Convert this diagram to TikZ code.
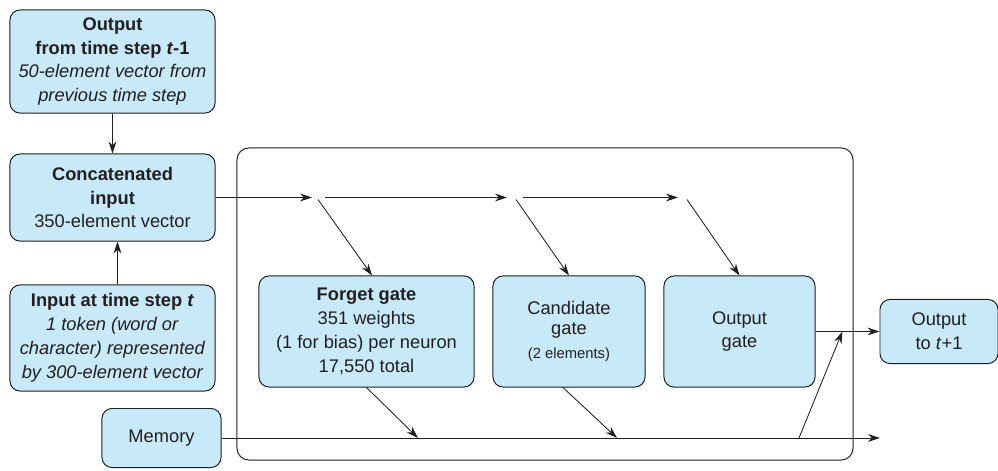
\documentclass[tikz,border=0pt]{standalone}
\usepackage{fontspec}
\setmainfont{Liberation Sans}
\usetikzlibrary{arrows.meta,positioning,calc}
\definecolor{boxblue}{RGB}{199,233,248}
\definecolor{inkgray}{RGB}{35,31,32}

\begin{document}
\begin{tikzpicture}[x=0.025cm,y=-0.025cm,
  box/.style={draw=inkgray,fill=boxblue,rounded corners=0.25cm,line width=0.7pt,align=center,text=inkgray,inner sep=0pt,font=\fontsize{13}{17}\selectfont},
  arr/.style={-{Stealth[length=8.5pt,width=5.5pt]},line width=0.6pt,draw=inkgray}]
\useasboundingbox (0,0) rectangle (998,471);
% cell frame
\node[draw=inkgray,rounded corners=0.3cm,line width=0.7pt,minimum width=15.4cm,minimum height=7.8cm] (cell) at (545,304) {};
% left column
\node[box,minimum width=5.125cm,minimum height=2.575cm] (prev) at (112.5,61.5) {\textbf{Output}\\ \textbf{from time step \textit{t}-1}\\ \textit{50-element vector from}\\ \textit{previous time step}};
\node[box,minimum width=5.125cm,minimum height=2.175cm] (cat) at (112.5,197.5) {\textbf{Concatenated}\\ \textbf{input}\\ 350-element vector};
\node[box,minimum width=5.125cm,minimum height=2.65cm] (inp) at (112.5,338) {\textbf{Input at time step \textit{t}}\\ \textit{1 token (word or}\\ \textit{character) represented}\\ \textit{by 300-element vector}};
\node[box,minimum width=2.975cm,minimum height=1.475cm] (mem) at (161.5,438) {Memory};
% gates
\node[box,minimum width=5.375cm,minimum height=2.775cm] (fg) at (366.5,331.5) {\textbf{Forget gate}\\ 351 weights\\ (1 for bias) per neuron\\ 17,550 total};
\node[box,minimum width=3.8cm,minimum height=2.775cm] (cg) at (569,331.5) {Candidate\\[-3pt] gate\\ {\fontsize{10.5}{14}\selectfont (2 elements)}};
\node[box,minimum width=3.775cm,minimum height=2.775cm] (og) at (739.5,331.5) {Output\\ gate};
\node[box,minimum width=2.95cm,minimum height=1.6cm] (nxt) at (939,331.5) {Output\\ to \textit{t}+1};
% branch points
\coordinate (j1) at (318,197.5);
\coordinate (j2) at (516,197.5);
\coordinate (j3) at (687,197.5);
\coordinate (m1) at (418,438);
\coordinate (m2) at (617,438);
\coordinate (m3) at (799,438);
\coordinate (memend) at (880,438);
\coordinate (o1) at ($(og.east)!0.42!(nxt.west)$);
% connectors
\draw[arr] (prev.south) -- (cat.north);
\draw[arr] ([xshift=0.125cm]inp.north) -- ([xshift=0.125cm]cat.south);
\draw[arr] (cat.east) -- ($(j1)+(-6,0)$);
\draw[arr] ($(j1)+(7,0)$) -- ($(j2)+(-9,0)$);
\draw[arr] ($(j2)+(7,0)$) -- ($(j3)+(-9,0)$);
\draw[arr] ($(j1)+(0,2)$) -- ([xshift=0.14cm]fg.north);
\draw[arr] ($(j2)+(0,2)$) -- (cg.north);
\draw[arr] ($(j3)+(0,2)$) -- (og.north);
\draw[arr] (mem.east) -- (memend);
\draw[arr] (fg.south) -- (m1);
\draw[arr] ([xshift=-0.15cm]cg.south) -- (m2);
\draw[arr] (m3) -- (o1);
\draw[arr] (og.east) -- (nxt.west);
\end{tikzpicture}
\end{document}
